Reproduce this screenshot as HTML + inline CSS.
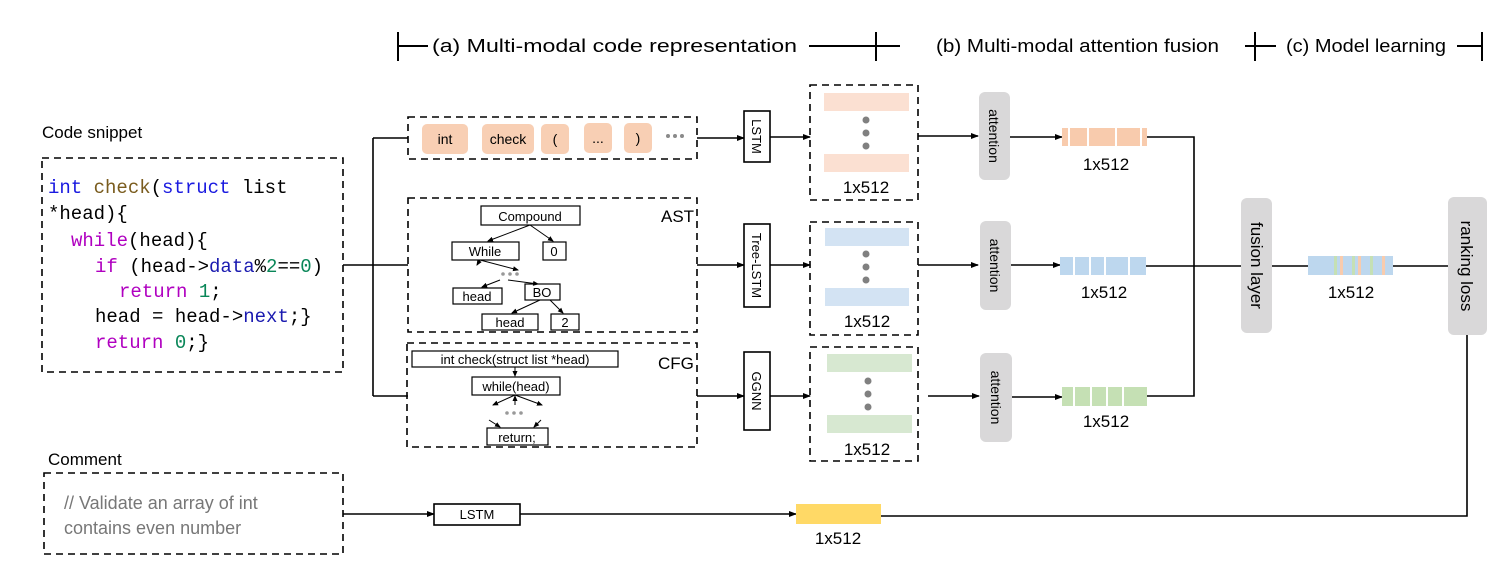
<!DOCTYPE html>
<html><head><meta charset="utf-8"><style>
body{margin:0;background:#fff}
svg{display:block}
text{font-family:"Liberation Sans",sans-serif}
text.m{font-family:"Liberation Mono","DejaVu Sans Mono",monospace;font-size:19px}
</style></head><body>
<svg width="1500" height="574" viewBox="0 0 1500 574" xmlns="http://www.w3.org/2000/svg">
<defs>
<marker id="a" markerWidth="8" markerHeight="8" refX="7" refY="4" orient="auto" markerUnits="userSpaceOnUse"><path d="M0,1 L8,4 L0,7z" fill="#000"/></marker>
<marker id="s" markerWidth="6" markerHeight="6" refX="5" refY="3" orient="auto" markerUnits="userSpaceOnUse"><path d="M0,0.5 L6,3 L0,5.5z" fill="#000"/></marker>
</defs>
<!-- header -->
<g stroke="#000" stroke-width="2">
<line x1="398" y1="32" x2="398" y2="61"/><line x1="398" y1="46" x2="428" y2="46"/>
<line x1="809" y1="46" x2="900" y2="46"/><line x1="876" y1="32" x2="876" y2="61"/>
<line x1="1245" y1="46" x2="1276" y2="46"/><line x1="1255" y1="32" x2="1255" y2="61"/>
<line x1="1457" y1="46" x2="1483" y2="46"/><line x1="1482" y1="32" x2="1482" y2="61"/>
</g>
<g font-size="18" fill="#000">
<text x="432" y="52" textLength="365" lengthAdjust="spacingAndGlyphs">(a) Multi-modal code representation</text>
<text x="936" y="52" textLength="283" lengthAdjust="spacingAndGlyphs">(b) Multi-modal attention fusion</text>
<text x="1286" y="52" textLength="160" lengthAdjust="spacingAndGlyphs">(c) Model learning</text>
</g>
<!-- code snippet -->
<text x="42" y="138" font-size="17">Code snippet</text>
<rect x="42" y="158" width="301" height="214" fill="none" stroke="#000" stroke-width="1.6" stroke-dasharray="7,5"/>
<text class="m" x="48" y="193"><tspan fill="#1a1ae0">int</tspan> <tspan fill="#7a5c1e">check</tspan>(<tspan fill="#1a1ae0">struct</tspan> list</text>
<text class="m" x="48" y="219">*head){</text>
<text class="m" x="71" y="246"><tspan fill="#b000c0">while</tspan>(head){</text>
<text class="m" x="95" y="272"><tspan fill="#b000c0">if</tspan> (head-&gt;<tspan fill="#1a1ab0">data</tspan>%<tspan fill="#098658">2</tspan>==<tspan fill="#098658">0</tspan>)</text>
<text class="m" x="119" y="297"><tspan fill="#b000c0">return</tspan> <tspan fill="#098658">1</tspan>;</text>
<text class="m" x="95" y="322">head = head-&gt;<tspan fill="#1a1ab0">next</tspan>;}</text>
<text class="m" x="95" y="348"><tspan fill="#b000c0">return</tspan> <tspan fill="#098658">0</tspan>;}</text>
<!-- comment -->
<text x="48" y="465" font-size="17">Comment</text>
<rect x="44" y="473" width="299" height="81" fill="none" stroke="#000" stroke-width="1.6" stroke-dasharray="7,5"/>
<text x="64" y="509" font-size="18" fill="#777">// Validate an array of int</text>
<text x="64" y="534" font-size="18" fill="#777">contains even number</text>
<!-- splitter -->
<g stroke="#000" stroke-width="1.6" fill="none">
<line x1="343" y1="265" x2="373" y2="265"/>
<line x1="373" y1="138" x2="373" y2="396"/>
<line x1="373" y1="138" x2="408" y2="138"/>
<line x1="373" y1="265" x2="408" y2="265"/>
<line x1="373" y1="396" x2="408" y2="396"/>
</g>
<!-- token box -->
<rect x="408" y="117" width="289" height="42" fill="none" stroke="#000" stroke-width="1.6" stroke-dasharray="7,5"/>
<g fill="#f8cfb4">
<rect x="422" y="124" width="46" height="30" rx="5"/><rect x="482" y="124" width="52" height="30" rx="5"/>
<rect x="541" y="124" width="28" height="30" rx="5"/><rect x="584" y="123" width="28" height="30" rx="5"/>
<rect x="624" y="123" width="28" height="30" rx="5"/></g>
<g font-size="14" text-anchor="middle">
<text x="445" y="144">int</text><text x="508" y="144">check</text><text x="555" y="144">(</text><text x="598" y="143">...</text><text x="638" y="143">)</text></g>
<g fill="#8a8a8a"><circle cx="668" cy="136" r="2"/><circle cx="675" cy="136" r="2"/><circle cx="682" cy="136" r="2"/></g>
<!-- AST -->
<rect x="408" y="198" width="289" height="134" fill="none" stroke="#000" stroke-width="1.6" stroke-dasharray="7,5"/>
<text x="661" y="222" font-size="17">AST</text>
<g fill="#fff" stroke="#000" stroke-width="1.2">
<rect x="481" y="206" width="99" height="19"/><rect x="452" y="242" width="67" height="18"/><rect x="543" y="242" width="23" height="18"/>
<rect x="453" y="288" width="49" height="16"/><rect x="525" y="284" width="35" height="16"/><rect x="482" y="314" width="56" height="16"/><rect x="551" y="314" width="28" height="16"/>
</g>
<g stroke="#000" stroke-width="1" marker-end="url(#s)">
<line x1="530" y1="225" x2="488" y2="241"/><line x1="530" y1="225" x2="553" y2="241"/>
<line x1="480" y1="260" x2="477" y2="265"/><line x1="480" y1="260" x2="518" y2="270"/>
<line x1="500" y1="280" x2="482" y2="287"/><line x1="508" y1="280" x2="538" y2="284"/>
<line x1="540" y1="300" x2="512" y2="313"/><line x1="550" y1="300" x2="563" y2="313"/>
</g>
<g fill="#999"><circle cx="503" cy="274" r="1.8"/><circle cx="510" cy="274" r="1.8"/><circle cx="517" cy="274" r="1.8"/></g>
<g font-size="13" text-anchor="middle">
<text x="530" y="221">Compound</text><text x="485" y="256">While</text><text x="554" y="256">0</text>
<text x="477" y="301">head</text><text x="542" y="297">BO</text><text x="510" y="327">head</text><text x="565" y="327">2</text></g>
<!-- CFG -->
<rect x="407" y="343" width="290" height="104" fill="none" stroke="#000" stroke-width="1.6" stroke-dasharray="7,5"/>
<text x="658" y="369" font-size="17">CFG</text>
<g fill="#fff" stroke="#000" stroke-width="1.2">
<rect x="412" y="351" width="206" height="16"/><rect x="472" y="377" width="88" height="18"/><rect x="487" y="428" width="61" height="17"/></g>
<g stroke="#000" stroke-width="1" marker-end="url(#s)">
<line x1="515" y1="367" x2="515" y2="376"/>
<line x1="515" y1="395" x2="493" y2="405"/><line x1="515" y1="395" x2="542" y2="405"/><line x1="515" y1="405" x2="515" y2="396"/>
<line x1="489" y1="420" x2="500" y2="427"/><line x1="541" y1="420" x2="534" y2="427"/>
</g>
<g fill="#999"><circle cx="507" cy="413" r="1.8"/><circle cx="514" cy="413" r="1.8"/><circle cx="521" cy="413" r="1.8"/></g>
<g font-size="13" text-anchor="middle">
<text x="515" y="364">int check(struct list *head)</text><text x="516" y="391">while(head)</text><text x="517" y="442">return;</text></g>
<!-- encoders -->
<g stroke="#000" stroke-width="1.6">
<line x1="697" y1="138" x2="744" y2="138" marker-end="url(#a)"/>
<line x1="697" y1="265" x2="744" y2="265" marker-end="url(#a)"/>
<line x1="697" y1="396" x2="744" y2="396" marker-end="url(#a)"/>
<line x1="770" y1="137" x2="810" y2="137" marker-end="url(#a)"/>
<line x1="770" y1="265" x2="810" y2="265" marker-end="url(#a)"/>
<line x1="770" y1="396" x2="810" y2="396" marker-end="url(#a)"/>
</g>
<g fill="#fff" stroke="#000" stroke-width="1.6">
<rect x="744" y="111" width="26" height="51"/><rect x="744" y="224" width="26" height="83"/><rect x="744" y="352" width="26" height="78"/></g>
<g font-size="13" text-anchor="middle">
<text transform="translate(752,136.5) rotate(90)">LSTM</text>
<text transform="translate(752,265.5) rotate(90)">Tree-LSTM</text>
<text transform="translate(752,391) rotate(90)">GGNN</text></g>
<!-- embeddings -->
<g fill="none" stroke="#000" stroke-width="1.6" stroke-dasharray="7,5">
<rect x="810" y="85" width="108" height="115"/><rect x="810" y="222" width="108" height="113"/><rect x="810" y="347" width="108" height="114"/></g>
<rect x="824" y="93" width="85" height="18" fill="#fbe0d2"/><rect x="824" y="154" width="85" height="18" fill="#fbe0d2"/>
<rect x="825" y="228" width="84" height="18" fill="#d3e3f3"/><rect x="825" y="288" width="84" height="18" fill="#d3e3f3"/>
<rect x="827" y="354" width="85" height="18" fill="#d7e8d1"/><rect x="827" y="415" width="85" height="18" fill="#d7e8d1"/>
<g fill="#808080">
<circle cx="866" cy="120" r="3.5"/><circle cx="866" cy="133" r="3.5"/><circle cx="866" cy="146" r="3.5"/>
<circle cx="866" cy="254" r="3.5"/><circle cx="866" cy="267" r="3.5"/><circle cx="866" cy="280" r="3.5"/>
<circle cx="868" cy="381" r="3.5"/><circle cx="868" cy="394" r="3.5"/><circle cx="868" cy="407" r="3.5"/></g>
<g font-size="17" text-anchor="middle">
<text x="866" y="193">1x512</text><text x="867" y="327">1x512</text><text x="867" y="455">1x512</text></g>
<!-- attention -->
<g stroke="#000" stroke-width="1.6">
<line x1="918" y1="136" x2="978" y2="136" marker-end="url(#a)"/>
<line x1="918" y1="265" x2="978" y2="265" marker-end="url(#a)"/>
<line x1="928" y1="396" x2="979" y2="396" marker-end="url(#a)"/>
<line x1="1010" y1="137" x2="1062" y2="137" marker-end="url(#a)"/>
<line x1="1011" y1="265" x2="1060" y2="265" marker-end="url(#a)"/>
<line x1="1012" y1="397" x2="1062" y2="397" marker-end="url(#a)"/>
</g>
<g fill="#d9d8d9">
<rect x="979" y="92" width="31" height="88" rx="6"/><rect x="980" y="221" width="31" height="89" rx="6"/><rect x="980" y="353" width="32" height="89" rx="6"/></g>
<g font-size="14" text-anchor="middle">
<text transform="translate(989,136) rotate(90)">attention</text>
<text transform="translate(990,265.5) rotate(90)">attention</text>
<text transform="translate(991,397.5) rotate(90)">attention</text></g>
<!-- vectors -->
<rect x="1062" y="128" width="85" height="18" fill="#f8cbad"/>
<g fill="#fff"><rect x="1068" y="128" width="2" height="18"/><rect x="1087" y="128" width="2" height="18"/><rect x="1115" y="128" width="2" height="18"/><rect x="1140" y="128" width="2" height="18"/></g>
<rect x="1060" y="257" width="86" height="18" fill="#bdd7ee"/>
<g fill="#fff"><rect x="1073" y="257" width="2" height="18"/><rect x="1089" y="257" width="2" height="18"/><rect x="1104" y="257" width="2" height="18"/><rect x="1128" y="257" width="2" height="18"/></g>
<rect x="1062" y="387" width="85" height="19" fill="#c5e0b4"/>
<g fill="#fff"><rect x="1073" y="387" width="2" height="19"/><rect x="1090" y="387" width="2" height="19"/><rect x="1106" y="387" width="2" height="19"/><rect x="1122" y="387" width="2" height="19"/></g>
<g font-size="17" text-anchor="middle">
<text x="1106" y="170">1x512</text><text x="1104" y="298">1x512</text><text x="1106" y="427">1x512</text></g>
<g stroke="#000" stroke-width="1.6" fill="none">
<polyline points="1147,137 1194,137 1194,396 1147,396"/>
<line x1="1146" y1="266" x2="1241" y2="266"/>
<line x1="1272" y1="266" x2="1308" y2="266"/>
<line x1="1393" y1="266" x2="1448" y2="266"/>
<polyline points="1467,335 1467,516 880,516"/>
<line x1="343" y1="514" x2="434" y2="514" marker-end="url(#a)"/>
<line x1="520" y1="514" x2="796" y2="514" marker-end="url(#a)"/>
</g>
<rect x="1241" y="198" width="31" height="135" rx="6" fill="#d9d8d9"/>
<text transform="translate(1251,265.5) rotate(90)" font-size="17" text-anchor="middle">fusion layer</text>
<rect x="1448" y="197" width="39" height="138" rx="6" fill="#d9d8d9"/>
<text transform="translate(1461,266) rotate(90)" font-size="17" text-anchor="middle">ranking loss</text>
<rect x="1308" y="256" width="85" height="19" fill="#bdd7ee"/>
<g><rect x="1334" y="256" width="3" height="19" fill="#c5e0b4"/><rect x="1340" y="256" width="3" height="19" fill="#f8cbad"/><rect x="1352" y="256" width="3" height="19" fill="#c5e0b4"/><rect x="1358" y="256" width="3" height="19" fill="#f8cbad"/><rect x="1370" y="256" width="3" height="19" fill="#c5e0b4"/><rect x="1382" y="256" width="3" height="19" fill="#f8cbad"/></g>
<text x="1351" y="298" font-size="17" text-anchor="middle">1x512</text>
<!-- comment LSTM -->
<rect x="434" y="504" width="86" height="21" fill="#fff" stroke="#000" stroke-width="1.6"/>
<text x="477" y="519" font-size="13" text-anchor="middle">LSTM</text>
<rect x="796" y="504" width="85" height="20" fill="#ffd966"/>
<text x="838" y="544" font-size="17" text-anchor="middle">1x512</text>
</svg>
</body></html>
